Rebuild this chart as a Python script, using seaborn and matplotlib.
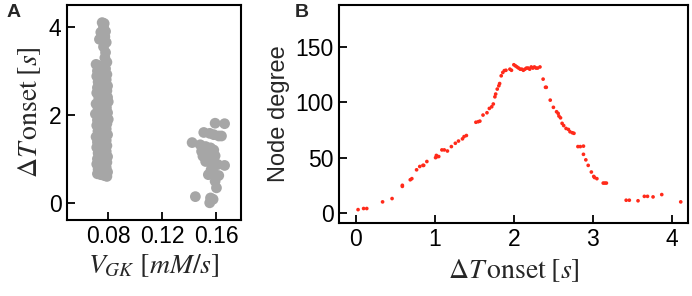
import numpy as np
import pandas as pd
import seaborn as sns
import matplotlib.pyplot as plt

# panel A: onset spread vs V_GK (two groups)
vgk_a = [0.0755, 0.0770, 0.0765, 0.0780, 0.0745, 0.0775, 0.0735, 0.0785, 0.0765, 0.0780,
         0.0775, 0.0790, 0.0710, 0.0730, 0.0755, 0.0780, 0.0720, 0.0745, 0.0770, 0.0790,
         0.0715, 0.0740, 0.0765, 0.0785, 0.0725, 0.0750, 0.0775, 0.0795, 0.0720, 0.0745,
         0.0770, 0.0790, 0.0715, 0.0740, 0.0760, 0.0785, 0.0730, 0.0755, 0.0780, 0.0800,
         0.0710, 0.0735, 0.0760, 0.0785, 0.0725, 0.0750, 0.0775, 0.0795, 0.0705, 0.0730,
         0.0755, 0.0780, 0.0800, 0.0720, 0.0745, 0.0770, 0.0790, 0.0715, 0.0740, 0.0765,
         0.0785, 0.0725, 0.0750, 0.0775, 0.0795, 0.0710, 0.0735, 0.0760, 0.0785, 0.0720,
         0.0745, 0.0770, 0.0790, 0.0715, 0.0740, 0.0765, 0.0785, 0.0725, 0.0750, 0.0775,
         0.0795, 0.0720, 0.0745, 0.0770, 0.0790, 0.0715, 0.0740, 0.0765, 0.0785, 0.0725,
         0.0750, 0.0775, 0.0795, 0.0720, 0.0745, 0.0770, 0.0790, 0.0730, 0.0755, 0.0780,
         0.0725, 0.0750, 0.0775, 0.0795, 0.0735, 0.0760, 0.0785, 0.0740, 0.0765, 0.0785]
onset_a = [4.10, 4.08, 4.00, 3.90, 3.88, 3.78, 3.72, 3.65, 3.55, 3.42,
           3.30, 3.20, 3.15, 3.12, 3.10, 3.05, 3.00, 2.98, 2.95, 2.92,
           2.88, 2.85, 2.82, 2.80, 2.75, 2.72, 2.70, 2.66, 2.62, 2.60,
           2.57, 2.55, 2.50, 2.48, 2.45, 2.42, 2.38, 2.35, 2.32, 2.30,
           2.25, 2.22, 2.20, 2.18, 2.14, 2.10, 2.08, 2.05, 2.02, 2.00,
           1.97, 1.94, 1.90, 1.88, 1.85, 1.82, 1.80, 1.76, 1.73, 1.70,
           1.68, 1.64, 1.60, 1.58, 1.55, 1.50, 1.48, 1.45, 1.42, 1.38,
           1.35, 1.32, 1.30, 1.26, 1.22, 1.20, 1.17, 1.13, 1.10, 1.07,
           1.05, 1.00, 0.98, 0.95, 0.92, 0.88, 0.85, 0.82, 0.80, 0.76,
           0.74, 0.72, 0.70, 0.66, 0.64, 0.62, 0.60, 2.65, 2.28, 1.92,
           1.62, 1.35, 1.15, 2.40, 2.05, 1.78, 1.52, 0.90, 1.25, 2.15]
vgk_b = [0.159, 0.166, 0.1506, 0.155, 0.158, 0.1617, 0.1637, 0.142, 0.148, 0.152,
         0.1556, 0.158, 0.149, 0.153, 0.157, 0.159, 0.150, 0.154, 0.158, 0.152,
         0.156, 0.161, 0.166, 0.156, 0.158, 0.154, 0.1617, 0.159, 0.160, 0.1444,
         0.1556, 0.1575, 0.155]
onset_b = [1.81, 1.80, 1.60, 1.58, 1.55, 1.52, 1.52, 1.37, 1.32, 1.28,
           1.25, 1.20, 1.17, 1.13, 1.12, 1.07, 1.06, 1.02, 1.00, 0.94,
           0.90, 0.87, 0.85, 0.75, 0.68, 0.64, 0.62, 0.49, 0.34, 0.14,
           0.11, 0.08, 0.00]

# panel B: node degree vs onset
onset = [0.03, 0.10, 0.14, 0.34, 0.46, 0.59, 0.59, 0.69, 0.71, 0.77,
         0.81, 0.85, 0.86, 0.90, 1.01, 1.02, 1.03, 1.05, 1.09, 1.12,
         1.16, 1.21, 1.26, 1.30, 1.35, 1.37, 1.40, 1.52, 1.55, 1.57,
         1.61, 1.66, 1.69, 1.72, 1.74, 1.76, 1.77, 1.79, 1.81, 1.82,
         1.84, 1.86, 1.88, 1.90, 1.95, 1.97, 2.00, 2.02, 2.04, 2.06,
         2.08, 2.10, 2.12, 2.14, 2.16, 2.18, 2.20, 2.22, 2.24, 2.26,
         2.28, 2.30, 2.33, 2.37, 2.40, 2.41, 2.46, 2.50, 2.54, 2.56,
         2.57, 2.59, 2.61, 2.63, 2.66, 2.69, 2.71, 2.74, 2.76, 2.81,
         2.84, 2.88, 2.88, 2.91, 2.94, 2.98, 3.01, 3.02, 3.05, 3.13,
         3.15, 3.17, 3.42, 3.46, 3.57, 3.65, 3.69, 3.76, 3.87, 4.11]
degree = [3, 4, 4, 10, 13, 24, 25, 30, 31, 39,
          42, 43, 43, 46.5, 50, 52, 51, 51, 57, 57,
          56, 60, 63, 65, 67, 69, 70, 82, 82.5, 83,
          88.5, 90.6, 94.5, 96, 98.5, 105, 107.5, 112, 115, 117,
          124, 127, 128.7, 129, 130, 129, 134, 133, 132, 131,
          130, 130, 129, 130, 131, 131, 130, 132, 131, 132,
          131, 131, 132, 121, 113.6, 113.6, 102, 95.5, 91.5, 90,
          87.6, 86, 81, 79, 76.4, 75.5, 73.4, 72.5, 72, 60,
          60, 60.4, 53, 48, 43, 37, 33, 32, 31, 27,
          27, 27, 11.5, 11.5, 11, 15, 15, 14.5, 16.6, 10]

df_a = pd.DataFrame({"vgk": vgk_a + vgk_b, "onset": onset_a + onset_b})
df_b = pd.DataFrame({"onset": onset, "degree": degree})

sns.set_style("ticks")
plt.rcParams["font.family"] = ["Liberation Sans", "DejaVu Sans"]
plt.rcParams["mathtext.fontset"] = "stix"
plt.rcParams["axes.linewidth"] = 1.5

fig = plt.figure(figsize=(6.92, 2.96), dpi=100)
ax1 = fig.add_axes([0.097, 0.257, 0.251, 0.726])
ax2 = fig.add_axes([0.49, 0.247, 0.504, 0.736])

sns.scatterplot(data=df_a, x="vgk", y="onset", ax=ax1, color="#a6a6a6",
                s=60, edgecolor="none", linewidth=0)
ax1.set_xlim(0.0496, 0.178)
ax1.set_ylim(-0.39, 4.5)
ax1.set_xticks([0.08, 0.12, 0.16])
ax1.set_xticklabels(["0.08", "0.12", "0.16"])
ax1.set_yticks([0, 2, 4])
ax1.set_xlabel(r"$V_{GK}\ \left[mM/s\right]$", fontsize=20, labelpad=3)
ax1.set_ylabel(r"$\Delta T\,\mathrm{onset}\;[s]$", fontsize=20, labelpad=4)

sns.scatterplot(data=df_b, x="onset", y="degree", ax=ax2, color="#ff2a1a",
                s=7, edgecolor="none", linewidth=0)
ax2.set_xlim(-0.21, 4.2)
ax2.set_ylim(-9, 188)
ax2.set_xticks([0, 1, 2, 3, 4])
ax2.set_yticks([0, 50, 100, 150])
ax2.set_xlabel(r"$\Delta T\,\mathrm{onset}\;[s]$", fontsize=20, labelpad=4)
ax2.set_ylabel("Node degree", fontsize=17, labelpad=4)

for ax in (ax1, ax2):
    for sp in ax.spines.values():
        sp.set_visible(True)
        sp.set_color("black")
        sp.set_linewidth(1.5)
    ax.tick_params(direction="in", length=6, width=1.3, labelsize=16.5, colors="black", pad=4)

fig.text(0.01, 0.985, "A", fontsize=14, fontweight="bold", va="top")
fig.text(0.426, 0.985, "B", fontsize=14, fontweight="bold", va="top")

fig.savefig("out.png", dpi=100)
